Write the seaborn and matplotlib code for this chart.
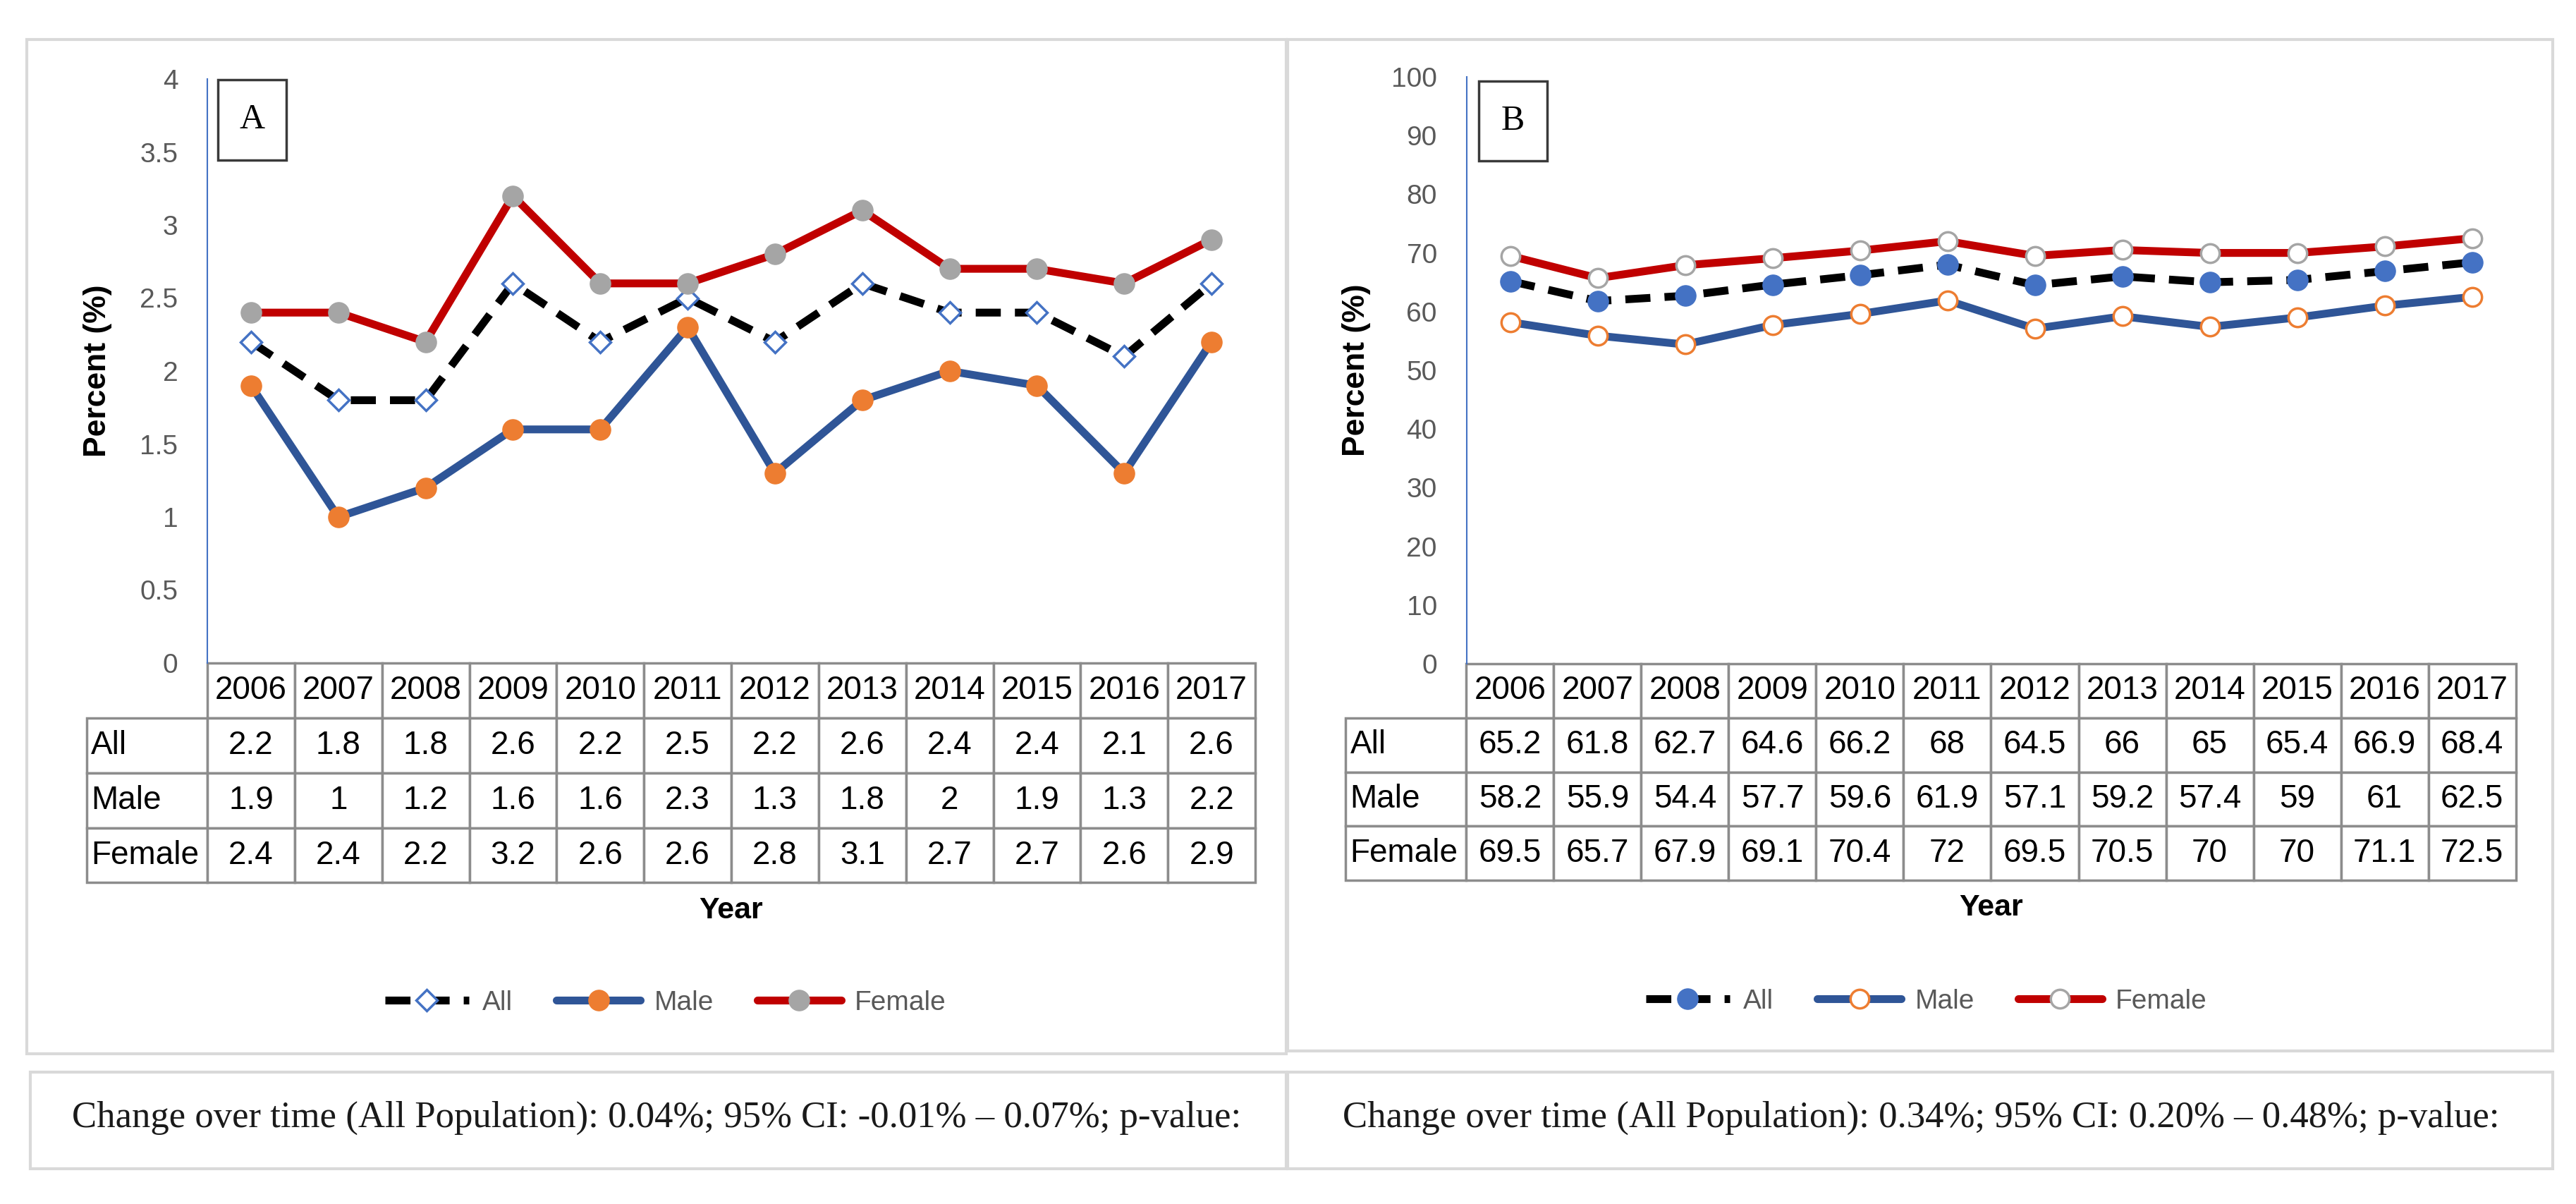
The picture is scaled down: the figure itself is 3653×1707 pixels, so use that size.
import numpy as np
import pandas as pd
import seaborn as sns
import matplotlib.pyplot as plt
from matplotlib.patches import Rectangle
from matplotlib.table import Table

years = [2006, 2007, 2008, 2009, 2010, 2011, 2012, 2013, 2014, 2015, 2016, 2017]

a_all = [2.2, 1.8, 1.8, 2.6, 2.2, 2.5, 2.2, 2.6, 2.4, 2.4, 2.1, 2.6]
a_male = [1.9, 1, 1.2, 1.6, 1.6, 2.3, 1.3, 1.8, 2, 1.9, 1.3, 2.2]
a_female = [2.4, 2.4, 2.2, 3.2, 2.6, 2.6, 2.8, 3.1, 2.7, 2.7, 2.6, 2.9]

b_all = [65.2, 61.8, 62.7, 64.6, 66.2, 68, 64.5, 66, 65, 65.4, 66.9, 68.4]
b_male = [58.2, 55.9, 54.4, 57.7, 59.6, 61.9, 57.1, 59.2, 57.4, 59, 61, 62.5]
b_female = [69.5, 65.7, 67.9, 69.1, 70.4, 72, 69.5, 70.5, 70, 70, 71.1, 72.5]

a_ticks = [0, 0.5, 1, 1.5, 2, 2.5, 3, 3.5, 4]
b_ticks = [0, 10, 20, 30, 40, 50, 60, 70, 80, 90, 100]

a_note = "Change over time (All Population): 0.04%; 95% CI: -0.01% \u2013 0.07%; p-value:"
b_note = "Change over time (All Population): 0.34%; 95% CI: 0.20% \u2013 0.48%; p-value:"

sns.set_theme(style="white")
plt.rcParams["font.family"] = ["Liberation Sans", "DejaVu Sans"]

W, H = 3653, 1707
fig = plt.figure(figsize=(W / 100, H / 100), dpi=100)

BLUE = "#4472C4"
DARKBLUE = "#2F5597"
ORANGE = "#ED7D31"
RED = "#C00000"
GRAY = "#A5A5A5"
DASH = (0, (3.2, 1.8))
LW = 8


def fmt(v):
    return f"{v:g}"


def px_rect(x0, y0, x1, y1, **kw):
    # rectangle given in pixel coords of the final image (top-left origin)
    r = Rectangle((x0 / W, 1 - y1 / H), (x1 - x0) / W, (y1 - y0) / H,
                  transform=fig.transFigure, fill=False, **kw)
    fig.patches.append(r)


def add_table(ax, data, bbox):
    # row labels live in grid column 0 so the bbox fit covers the whole table
    tbl = Table(ax, bbox=bbox)
    corner = tbl.add_cell(0, 0, width=1.385, height=1, text="")
    corner.set_edgecolor("none")
    corner.set_facecolor("none")
    for j, y in enumerate(years, start=1):
        tbl.add_cell(0, j, width=1, height=1, text=str(y), loc="center")
    for i, name in enumerate(data, start=1):
        c = tbl.add_cell(i, 0, width=1.385, height=1, text=name, loc="left")
        c.PAD = 0.04
        for j, v in enumerate(data[name], start=1):
            tbl.add_cell(i, j, width=1, height=1, text=fmt(v), loc="center")
    tbl.auto_set_font_size(False)
    tbl.set_fontsize(33)
    for (r, c), cell in tbl.get_celld().items():
        if (r, c) != (0, 0):
            cell.set_edgecolor("#8c8c8c")
        cell.set_linewidth(2.5)
        cell.get_text().set_color("black")
    ax.add_table(tbl)
    return tbl


def draw_panel(ax, letter, data, styles, ticks, letter_box, tbl_bbox, year_y, leg_xy):
    df = pd.DataFrame({"Year": years, **data})
    for name, st in zip(data, styles):
        sns.lineplot(data=df, x="Year", y=name, ax=ax, label=name,
                     errorbar=None, legend=False, **st)

    ax.set_xlim(2005.5, 2017.5)
    ax.set_ylim(ticks[0], ticks[-1])
    ax.set_yticks(ticks)
    ax.set_yticklabels([fmt(t) for t in ticks])
    ax.set_xticks([])
    ax.set_xlabel("")
    ax.set_ylabel("Percent (%)", fontsize=32, fontweight="bold", color="black")
    ax.yaxis.set_label_coords(-0.091, 0.5)
    for s in ["top", "right", "bottom"]:
        ax.spines[s].set_visible(False)
    ax.spines["left"].set_color(BLUE)
    ax.spines["left"].set_linewidth(1.5)
    ax.tick_params(axis="y", length=0, pad=30, labelsize=28, labelcolor="#595959")

    # panel letter box
    x0, y0, x1, y1 = letter_box
    ax.add_patch(Rectangle((x0, y0), x1 - x0, y1 - y0, transform=ax.transAxes,
                           facecolor="white", edgecolor="#3a3a3a", lw=2.5,
                           zorder=5, clip_on=False))
    ax.text((x0 + x1) / 2, (y0 + y1) / 2, letter, transform=ax.transAxes,
            ha="center", va="center", fontsize=36, family="Liberation Serif",
            color="black", zorder=6)

    add_table(ax, data, tbl_bbox)

    ax.text(0.5, year_y, "Year", transform=ax.transAxes, ha="center",
            va="center", fontsize=31, fontweight="bold", color="black")

    h, l = ax.get_legend_handles_labels()
    fig.legend(h, l, loc="center", bbox_to_anchor=leg_xy, ncol=3, frameon=False,
               fontsize=28, handlelength=3.05, handletextpad=0.5,
               columnspacing=1.6, labelcolor="#595959")


# panel A
axA = fig.add_axes([294 / W, 1 - 940 / H, (1780 - 294) / W, (940 - 112) / H])
stylesA = [
    dict(color="black", linestyle=DASH, linewidth=LW, marker="D", markersize=15,
         markerfacecolor="white", markeredgecolor=BLUE, markeredgewidth=2.5),
    dict(color=DARKBLUE, linewidth=LW, marker="o", markersize=21,
         markerfacecolor=ORANGE, markeredgecolor=ORANGE, markeredgewidth=1),
    dict(color=RED, linewidth=LW, marker="o", markersize=21,
         markerfacecolor=GRAY, markeredgecolor=GRAY, markeredgewidth=1),
]
draw_panel(axA, "A", {"All": a_all, "Male": a_male, "Female": a_female}, stylesA,
           a_ticks, (0.0101, 0.861, 0.0754, 0.9988),
           [-0.1154, -0.3762, 1.1154, 0.3762], -0.424, (944 / W, 1 - 1422 / H))

# panel B
axB = fig.add_axes([2079.5 / W, 1 - 941 / H, (3567.6 - 2079.5) / W, (941 - 109) / H])
stylesB = [
    dict(color="black", linestyle=DASH, linewidth=LW, marker="o", markersize=21,
         markerfacecolor=BLUE, markeredgecolor=BLUE, markeredgewidth=1),
    dict(color=DARKBLUE, linewidth=LW, marker="o", markersize=19,
         markerfacecolor="white", markeredgecolor=ORANGE, markeredgewidth=2.5),
    dict(color=RED, linewidth=LW, marker="o", markersize=19,
         markerfacecolor="white", markeredgecolor=GRAY, markeredgewidth=2.5),
]
draw_panel(axB, "B", {"All": b_all, "Male": b_male, "Female": b_female}, stylesB,
           b_ticks, (0.0118, 0.857, 0.0770, 0.9928),
           [-0.1155, -0.369, 1.1155, 0.369], -0.416, (2732 / W, 1 - 1420 / H))

# outer frames
px_rect(38, 56, 1824, 1494, edgecolor="#d9d9d9", lw=3)
px_rect(1826, 56, 3620, 1490, edgecolor="#d9d9d9", lw=3)
px_rect(43, 1520, 1824, 1657, edgecolor="#d9d9d9", lw=3)
px_rect(1826, 1520, 3620, 1657, edgecolor="#d9d9d9", lw=3)

fig.text(931 / W, 1 - 1585 / H, a_note, ha="center", va="center", fontsize=38,
         family="Liberation Serif", color="#1a1a1a")
fig.text(2724 / W, 1 - 1585 / H, b_note, ha="center", va="center", fontsize=38,
         family="Liberation Serif", color="#1a1a1a")

fig.savefig("out.png", dpi=100)
